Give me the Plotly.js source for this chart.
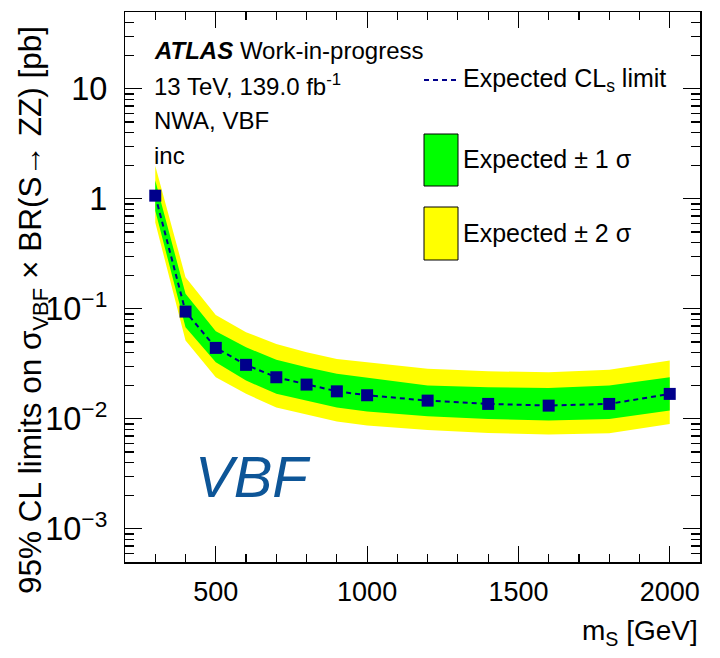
<!DOCTYPE html>
<html>
<head>
<meta charset="utf-8">
<script src="https://cdn.plot.ly/plotly-3.0.1.min.js"></script>
<style>
  html, body { margin: 0; padding: 0; background: #fff; }
  #chart { width: 720px; height: 658px; }
</style>
</head>
<body>
<div id="chart"></div>
<script>
// ---- Data ----
const massPoints = [300, 400, 500, 600, 700, 800, 900, 1000, 1200, 1400, 1600, 1800, 2000];
const expectedLimit = [1.07, 0.0945, 0.0442, 0.031, 0.0239, 0.0205, 0.0178, 0.0164, 0.01466, 0.01368, 0.0132, 0.01368, 0.01687];
const plus1Sigma  = [1.47, 0.137, 0.0626, 0.0448, 0.0344, 0.0294, 0.0257, 0.0236, 0.0201, 0.0194, 0.0191, 0.0201, 0.0239];
const minus1Sigma = [0.78, 0.068, 0.0327, 0.0223, 0.0169, 0.0147, 0.0127, 0.0117, 0.01056, 0.0100, 0.00966, 0.0100, 0.0119];
const plus2Sigma  = [2.0, 0.194, 0.088, 0.0613, 0.048, 0.0403, 0.0351, 0.0327, 0.0285, 0.0271, 0.0265, 0.0279, 0.0339];
const minus2Sigma = [0.61, 0.0515, 0.0239, 0.0169, 0.0127, 0.0109, 0.00945, 0.00869, 0.00794, 0.00746, 0.0072, 0.0074, 0.0090];

const legendLabels = ["Expected CL<sub>s</sub> limit", "Expected \u00B1 1 \u03C3", "Expected \u00B1 2 \u03C3"];
const infoLines = ["<b><i>ATLAS</i></b> Work-in-progress", "13 TeV, 139.0 fb<sup>-1</sup>", "NWA, VBF", "inc"];
const channelLabel = "VBF";
const xTitle = "m<sub>S</sub> [GeV]";
const yTitle = "95% CL limits on \u03C3<sub>VBF</sub> \u00D7 BR(S\u2192 ZZ) [pb]";

// ---- Styles ----
const FONT = "Liberation Sans, Arial, Helvetica, sans-serif";
const NAVY = "#00008b";
const GREEN = "#00ff00";
const YELLOW = "#ffff00";

// pixel -> paper helpers for decoration placement (plot frame 125..700 x 12..562)
const L = 125, R = 700, T = 12, B = 562;
const px = x => (x - L) / (R - L);
const py = y => (B - y) / (B - T);

function band(upper, lower) {
  return {
    x: massPoints.concat(massPoints.slice().reverse()),
    y: upper.concat(lower.slice().reverse())
  };
}

const b2 = band(plus2Sigma, minus2Sigma);
const b1 = band(plus1Sigma, minus1Sigma);

const traces = [
  { x: b2.x, y: b2.y, type: "scatter", mode: "lines", fill: "toself",
    fillcolor: YELLOW, line: { width: 0, color: YELLOW }, hoverinfo: "skip", showlegend: false },
  { x: b1.x, y: b1.y, type: "scatter", mode: "lines", fill: "toself",
    fillcolor: GREEN, line: { width: 0, color: GREEN }, hoverinfo: "skip", showlegend: false },
  { x: massPoints, y: expectedLimit, type: "scatter", mode: "lines+markers",
    line: { color: NAVY, width: 2, dash: "5px,4px" },
    marker: { symbol: "square", size: 12, color: NAVY }, showlegend: false }
];

const annotations = [];
const infoY = [50, 85, 120, 155];
infoLines.forEach((t, i) => annotations.push({
  xref: "paper", yref: "paper", x: px(152), y: py(infoY[i]), xanchor: "left", yanchor: "middle",
  text: t, showarrow: false, font: { family: FONT, size: 24, color: "#000" }
}));
const legY = [80, 159, 233];
legendLabels.forEach((t, i) => annotations.push({
  xref: "paper", yref: "paper", x: px(461), y: py(legY[i]), xanchor: "left", yanchor: "middle",
  text: t, showarrow: false, font: { family: FONT, size: 25, color: "#000" }
}));
annotations.push({
  xref: "paper", yref: "paper", x: px(253), y: py(476), xanchor: "center", yanchor: "middle",
  text: "<i>" + channelLabel + "</i>", showarrow: false,
  font: { family: FONT, size: 58, color: "#0d5597" }
});
annotations.push({
  xref: "paper", yref: "paper", x: 1, y: py(632), xanchor: "right", yanchor: "middle",
  text: xTitle, showarrow: false, font: { family: FONT, size: 28, color: "#000" }
});
annotations.push({
  xref: "paper", yref: "paper", x: px(32), y: py(24), xanchor: "center", yanchor: "top",
  text: yTitle, textangle: -90, showarrow: false, font: { family: FONT, size: 31.5, color: "#000" }
});

const shapes = [
  { type: "line", xref: "paper", yref: "paper", x0: px(424), x1: px(458), y0: py(80), y1: py(80),
    line: { color: NAVY, width: 2, dash: "5px,4px" } },
  { type: "rect", xref: "paper", yref: "paper", x0: px(424), x1: px(458), y0: py(186), y1: py(134),
    fillcolor: GREEN, line: { color: "#000", width: 1 } },
  { type: "rect", xref: "paper", yref: "paper", x0: px(424), x1: px(458), y0: py(260), y1: py(207),
    fillcolor: YELLOW, line: { color: "#000", width: 1 } }
];

const layout = {
  width: 720, height: 658, autosize: false,
  margin: { l: L, r: 720 - R, t: T, b: 658 - B, pad: 0 },
  paper_bgcolor: "#fff", plot_bgcolor: "#fff",
  showlegend: false,
  font: { family: FONT, color: "#000" },
  xaxis: {
    range: [200, 2100], tick0: 0, dtick: 500,
    ticks: "inside", ticklen: 16, tickwidth: 1.2, tickcolor: "#000",
    minor: { dtick: 100, ticks: "inside", ticklen: 8, tickwidth: 1.2, tickcolor: "#000", showgrid: false },
    showline: true, linecolor: "#000", linewidth: 1.5, mirror: "allticks",
    showgrid: false, zeroline: false,
    tickfont: { family: FONT, size: 27, color: "#000" }, ticklabelstandoff: 5
  },
  yaxis: {
    type: "log", range: [Math.log10(5e-4), Math.log10(50)], dtick: 1,
    exponentformat: "power",
    ticks: "inside", ticklen: 17, tickwidth: 1.2, tickcolor: "#000",
    minor: { dtick: "D1", ticks: "inside", ticklen: 9, tickwidth: 1.2, tickcolor: "#000", showgrid: false },
    showline: true, linecolor: "#000", linewidth: 1.5, mirror: "allticks",
    showgrid: false, zeroline: false,
    tickfont: { family: FONT, size: 26, color: "#000" }, ticklabelstandoff: 11
  },
  annotations: annotations,
  shapes: shapes
};

Plotly.newPlot("chart", traces, layout, { staticPlot: true, displayModeBar: false });
</script>
</body>
</html>
